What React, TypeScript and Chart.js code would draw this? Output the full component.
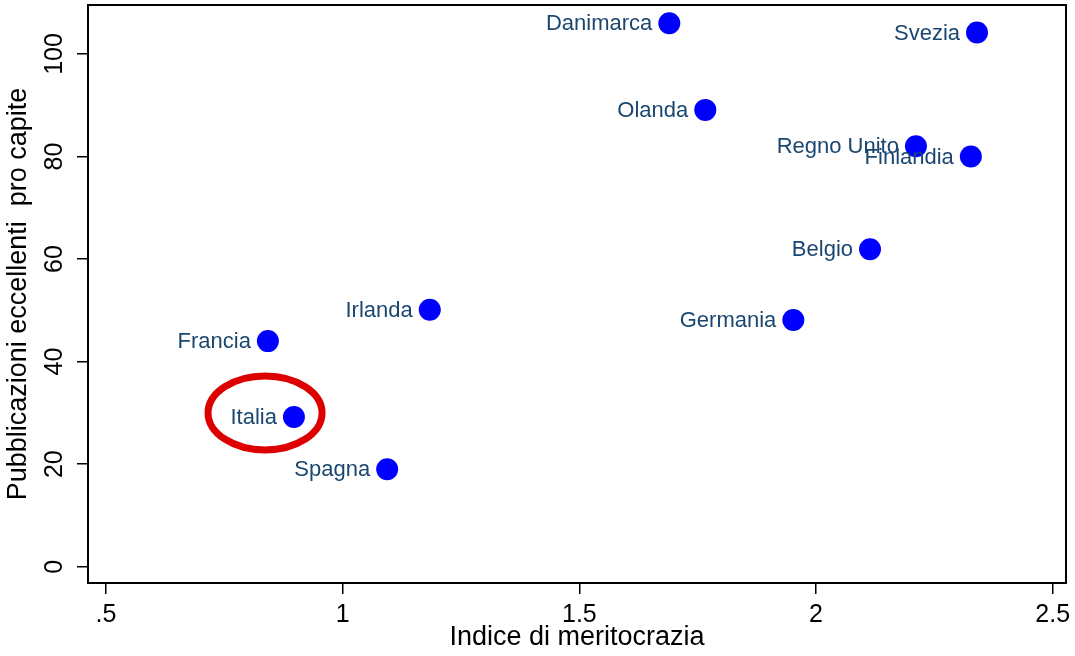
import { useEffect, useRef } from "react";
import { Chart, registerables } from "chart.js";

Chart.register(...registerables);

const countries = ["Danimarca", "Svezia", "Olanda", "Regno Unito", "Finlandia", "Belgio", "Germania", "Irlanda", "Francia", "Italia", "Spagna"];
const meritocrazia = [1.69, 2.34, 1.766, 2.211, 2.327, 2.114, 1.952, 1.184, 0.842, 0.897, 1.094];
const pubblicazioni = [106.0, 104.2, 89.1, 82.0, 80.0, 61.9, 48.1, 50.1, 44.0, 29.2, 19.0];
const xTickValues = [0.5, 1, 1.5, 2, 2.5];
const yTickValues = [0, 20, 40, 60, 80, 100];
const highlightCenter = { x: 0.836, y: 30 };

const FONT = "'Liberation Sans', Arial, sans-serif";

export default function App() {
  const ref = useRef<HTMLCanvasElement | null>(null);

  useEffect(() => {
    if (!ref.current) return;

    const labelPlugin = {
      id: "pointLabels",
      afterDatasetsDraw(chart: any) {
        const ctx = chart.ctx;
        const meta = chart.getDatasetMeta(0);
        ctx.save();
        ctx.font = `22px ${FONT}`;
        ctx.fillStyle = "#1a476f";
        ctx.textAlign = "right";
        ctx.textBaseline = "middle";
        meta.data.forEach((pt: any, i: number) => {
          ctx.fillText(countries[i], pt.x - 17, pt.y + 1);
        });
        const xs = chart.scales.x;
        const ys = chart.scales.y;
        const cx = xs.getPixelForValue(highlightCenter.x);
        const cy = ys.getPixelForValue(highlightCenter.y);
        ctx.beginPath();
        ctx.ellipse(cx, cy, 57, 37, 0, 0, Math.PI * 2);
        ctx.lineWidth = 7;
        ctx.strokeStyle = "#dd0000";
        ctx.stroke();
        ctx.restore();
      },
      afterDraw(chart: any) {
        const { left, top, right, bottom } = chart.chartArea;
        const ctx = chart.ctx;
        ctx.save();
        ctx.strokeStyle = "#000";
        ctx.lineWidth = 2;
        ctx.strokeRect(left, top, right - left, bottom - top);
        ctx.restore();
      },
    };

    const chart = new Chart(ref.current, {
      type: "scatter",
      data: {
        datasets: [
          {
            data: meritocrazia.map((x, i) => ({ x, y: pubblicazioni[i] })),
            backgroundColor: "#0000ff",
            borderWidth: 0,
            pointRadius: 11,
            pointHoverRadius: 11,
            clip: false,
          },
        ],
      },
      options: {
        responsive: false,
        animation: false,
        layout: { autoPadding: false, padding: { top: 5, right: 9, left: 0, bottom: 0 } },
        plugins: { legend: { display: false }, tooltip: { enabled: false } },
        scales: {
          x: {
            type: "linear",
            min: 0.462,
            max: 2.528,
            afterBuildTicks: (s: any) => {
              s.ticks = xTickValues.map((v) => ({ value: v }));
            },
            afterFit: (s: any) => {
              s.height = 73;
              s.paddingLeft = 0;
              s.paddingRight = 0;
            },
            ticks: {
              color: "#000",
              font: { family: FONT, size: 25 },
              padding: 6,
              callback: (v: any) => String(v).replace(/^0\./, "."),
            },
            grid: { drawOnChartArea: false, tickLength: 11, color: "#000", lineWidth: 1.5 },
            border: { display: false },
            title: {
              display: true,
              text: "Indice di meritocrazia",
              color: "#000",
              font: { family: FONT, size: 27 },
              padding: { top: 0, bottom: 2 },
            },
          },
          y: {
            type: "linear",
            min: -3.18,
            max: 109.56,
            afterBuildTicks: (s: any) => {
              s.ticks = yTickValues.map((v) => ({ value: v }));
            },
            afterFit: (s: any) => {
              s.width = 88;
              s.paddingTop = 0;
              s.paddingBottom = 0;
            },
            ticks: {
              color: "#000",
              font: { family: FONT, size: 25 },
              padding: 1,
              minRotation: 90,
              maxRotation: 90,
              crossAlign: "center",
            },
            grid: { drawOnChartArea: false, tickLength: 11, color: "#000", lineWidth: 1.5 },
            border: { display: false },
            title: {
              display: true,
              text: "Pubblicazioni eccellenti  pro capite",
              color: "#000",
              font: { family: FONT, size: 27 },
              padding: { top: 2, bottom: 0 },
            },
          },
        },
      },
      plugins: [labelPlugin],
    });

    return () => chart.destroy();
  }, []);

  return (
    <div style={{ position: "absolute", left: 0, top: 0, width: 1075, height: 656, background: "#fff" }}>
      <canvas ref={ref} width={1075} height={656} style={{ display: "block" }} />
    </div>
  );
}
